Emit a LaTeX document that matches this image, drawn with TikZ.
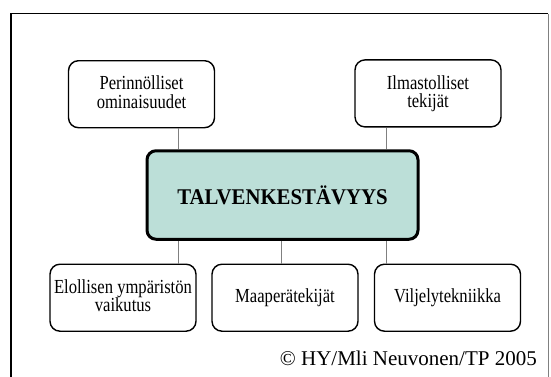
\documentclass[tikz,border=0pt]{standalone}
\usepackage{fontspec}
\usepackage{graphicx}
\setmainfont{Liberation Serif}
\definecolor{talvi}{RGB}{188,223,216}
% tekstit ovat hiukan pystyyn venytettyja
\newcommand{\venytys}[1]{\scalebox{1}[1.2]{\begin{tabular}{@{}c@{}}#1\end{tabular}}}
\tikzset{
  tekija/.style={draw, line width=1.4pt, rounded corners=10pt, fill=white,
    minimum width=146pt, minimum height=67pt, inner sep=0pt, align=center,
    font=\fontsize{16.6}{12}\selectfont},
  paa/.style={draw, line width=3pt, rounded corners=9pt, fill=talvi,
    minimum width=271pt, minimum height=88.5pt, inner sep=0pt,
    font=\fontsize{20.8}{24}\selectfont\bfseries},
  yhteys/.style={draw=gray, line width=0.8pt}
}
\begin{document}
\begin{tikzpicture}[x=1pt,y=-1pt]
\useasboundingbox (0,0) rectangle (551,376);
% kehys
\draw[line width=1.6pt] (11,390) -- (11,13.5) -- (548,13.5);
\draw[gray, line width=0.8pt] (548,13.5) -- (548,390);
% viivojen paikat
\coordinate (v1) at (178.6,0);
\coordinate (v2) at (281.2,0);
\coordinate (v3) at (386.6,0);
\node[paa] (keski) at (282.5,195) {\scalebox{1}[1.08]{TALVENKESTÄVYYS}};
\node[tekija] (perin) at (141.5,94.2) {\venytys{Perinnölliset\\ominaisuudet}};
\node[tekija] (ilmasto) at (428,93.4) {\venytys{Ilmastolliset\\tekijät}};
\node[tekija] (elollinen) at (123,297.7) {\venytys{Elollisen ympäristön\\vaikutus}};
\node[tekija] (maapera) at (285,297.7) {\venytys{Maaperätekijät}};
\node[tekija] (viljely) at (447.5,297.7) {\venytys{Viljelytekniikka}};
\node[anchor=base east, inner sep=0pt, font=\fontsize{21}{24}\selectfont] (tekija) at (537,365) {© HY/Mli Neuvonen/TP 2005};
\draw[yhteys] (perin.south -| v1) -- (keski.north -| v1);
\draw[yhteys] (ilmasto.south -| v3) -- (keski.north -| v3);
\draw[yhteys] (keski.south -| v1) -- (elollinen.north -| v1);
\draw[yhteys] (keski.south -| v2) -- (maapera.north -| v2);
\draw[yhteys] (keski.south -| v3) -- (viljely.north -| v3);
\end{tikzpicture}
\end{document}
